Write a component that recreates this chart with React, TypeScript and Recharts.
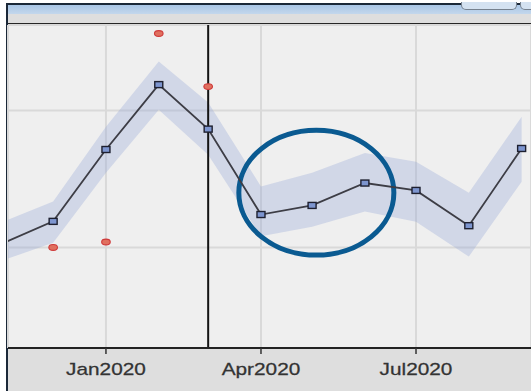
import React from 'react';
import {
  ComposedChart,
  Area,
  Line,
  Scatter,
  XAxis,
  YAxis,
  CartesianGrid,
  ReferenceLine,
  ReferenceArea,
} from 'recharts';

// Monthly model fit with its uncertainty band
const months = [
  '2019-11-01', '2019-12-01', '2020-01-01', '2020-02-01', '2020-03-01', '2020-04-01',
  '2020-05-01', '2020-06-01', '2020-07-01', '2020-08-01', '2020-09-01',
];
const fitted = [20.55, 23.81, 34.31, 43.79, 37.29, 24.81, 26.14, 29.41, 28.33, 23.18, 34.46];
const bandLower = [18.07, 20.7, 30.91, 40.1, 33.54, 21.62, 23.03, 25.27, 23.76, 18.66, 29.6];
const bandUpper = [23.69, 26.73, 37.62, 47.15, 41.17, 28.91, 30.91, 33.79, 32.52, 28.0, 39.08];

// Observed values (only up to the cutoff)
const observedDates = ['2019-12-01', '2020-01-01', '2020-02-01', '2020-03-01'];
const observedValues = [20.0, 20.8, 51.26, 43.5];

// Axis setup
const tickDates = ['2020-01-01', '2020-04-01', '2020-07-01'];
const tickLabels = ['Jan2020', 'Apr2020', 'Jul2020'];
const xRange = ['2019-11-04T12:00:00Z', '2020-09-06T12:00:00Z'];
const yRange = [5.31, 52.5];
const yGridValues = [20, 40];
const cutoffDate = '2020-03-01';

// Highlighted stretch (drawn as an ellipse around it)
const highlightDates = ['2020-03-19', '2020-06-18'];
const highlightValues = [18.88, 37.11];

const ts = (d: string) => new Date(d).getTime();

const rows = months.map((m, i) => ({
  t: ts(m),
  fit: fitted[i],
  band: [bandLower[i], bandUpper[i]],
}));
const obsRows = observedDates.map((d, i) => ({ t: ts(d), obs: observedValues[i] }));
const tickTimes = tickDates.map(ts);
const labelFor = (v: number) => {
  const i = tickTimes.indexOf(v);
  return i >= 0 ? tickLabels[i] : '';
};

const StretchedTick = (props: any) => {
  const { x, y, payload } = props;
  return (
    <g transform={`translate(${x},${y + 19})`}>
      <text
        x={0}
        y={0}
        textAnchor="middle"
        transform="scale(1.3,1)"
        fontFamily="'Liberation Sans', Arial, sans-serif"
        fontSize={16}
        fill="#333"
        stroke="#333"
        strokeWidth={0.25}
      >
        {labelFor(payload.value)}
      </text>
    </g>
  );
};

const SquareDot = (props: any) => {
  const { cx, cy, index } = props;
  if (cx == null || cy == null) return <g key={`sq-${index}`} />;
  return (
    <rect
      key={`sq-${index}`}
      x={cx - 4}
      y={cy - 3}
      width={8}
      height={6}
      fill="#7d95cf"
      stroke="#1e2030"
      strokeWidth={1.4}
    />
  );
};

const RedDot = (props: any) => (
  <ellipse
    cx={props.cx}
    cy={props.cy}
    rx={4.3}
    ry={2.9}
    fill="#e0705f"
    stroke="#cf3a3a"
    strokeWidth={1.1}
  />
);

const EllipseShape = (props: any) => {
  const { x, y, width, height } = props;
  return (
    <ellipse
      cx={x + width / 2}
      cy={y + height / 2}
      rx={width / 2}
      ry={height / 2}
      fill="none"
      stroke="#0a5a91"
      strokeWidth={5}
    />
  );
};

export default function App() {
  return (
    <div
      style={{
        position: 'fixed',
        left: 0,
        top: 0,
        width: 531,
        height: 391,
        overflow: 'hidden',
        background: '#ffffff',
      }}
    >
      {/* window frame */}
      <div
        style={{
          position: 'absolute',
          left: 6,
          top: 3,
          width: 530,
          height: 392,
          boxSizing: 'border-box',
          borderLeft: '2px solid #1b2838',
          borderTop: '2px solid #1b2838',
          background: '#dedede',
        }}
      />
      <div
        style={{
          position: 'absolute',
          left: 8,
          top: 5,
          width: 523,
          height: 9,
          background: 'linear-gradient(to bottom, #a9c6e6, #c3d7ec)',
        }}
      />
      <div
        style={{
          position: 'absolute',
          left: 461,
          top: 2,
          width: 56,
          height: 8,
          boxSizing: 'border-box',
          border: '1.5px solid #76818e',
          borderTop: 'none',
          borderRadius: '0 0 5px 5px',
          background: '#d4e2f1',
        }}
      />
      <div
        style={{
          position: 'absolute',
          left: 520,
          top: 2,
          width: 30,
          height: 8,
          boxSizing: 'border-box',
          border: '1.5px solid #76818e',
          borderTop: 'none',
          borderRadius: '0 0 5px 5px',
          background: '#d4e2f1',
        }}
      />
      <div
        style={{
          position: 'absolute',
          left: 8,
          top: 23,
          width: 523,
          height: 2,
          background: '#262626',
        }}
      />
      <div style={{ position: 'absolute', left: 0, top: 0 }}>
        <ComposedChart
          width={531}
          height={391}
          data={rows}
          margin={{ top: 25, right: 0, bottom: 0, left: 8 }}
        >
          <CartesianGrid fill="#efefef" stroke="#d9d9d9" strokeWidth={2} />
          <XAxis
            dataKey="t"
            type="number"
            scale="time"
            domain={xRange.map(ts)}
            allowDataOverflow
            ticks={tickTimes}
            interval={0}
            height={43}
            tickSize={6}
            tickMargin={2}
            axisLine={{ stroke: '#222', strokeWidth: 2 }}
            tickLine={{ stroke: '#333', strokeWidth: 1.5 }}
            tick={<StretchedTick />}
          />
          <YAxis
            hide
            type="number"
            domain={yRange}
            allowDataOverflow
            ticks={yGridValues}
          />
          <Area
            dataKey="band"
            type="linear"
            stroke="none"
            fill="#93a6d6"
            fillOpacity={0.32}
            isAnimationActive={false}
            activeDot={false}
          />
          <ReferenceLine x={ts(cutoffDate)} stroke="#141414" strokeWidth={2} />
          <Line
            dataKey="fit"
            type="linear"
            stroke="#3d3d45"
            strokeWidth={1.8}
            dot={SquareDot}
            activeDot={false}
            isAnimationActive={false}
          />
          <Scatter
            data={obsRows}
            dataKey="obs"
            shape={RedDot}
            isAnimationActive={false}
          />
          <ReferenceArea
            x1={ts(highlightDates[0])}
            x2={ts(highlightDates[1])}
            y1={highlightValues[0]}
            y2={highlightValues[1]}
            shape={EllipseShape}
          />
        </ComposedChart>
      </div>
    </div>
  );
}
